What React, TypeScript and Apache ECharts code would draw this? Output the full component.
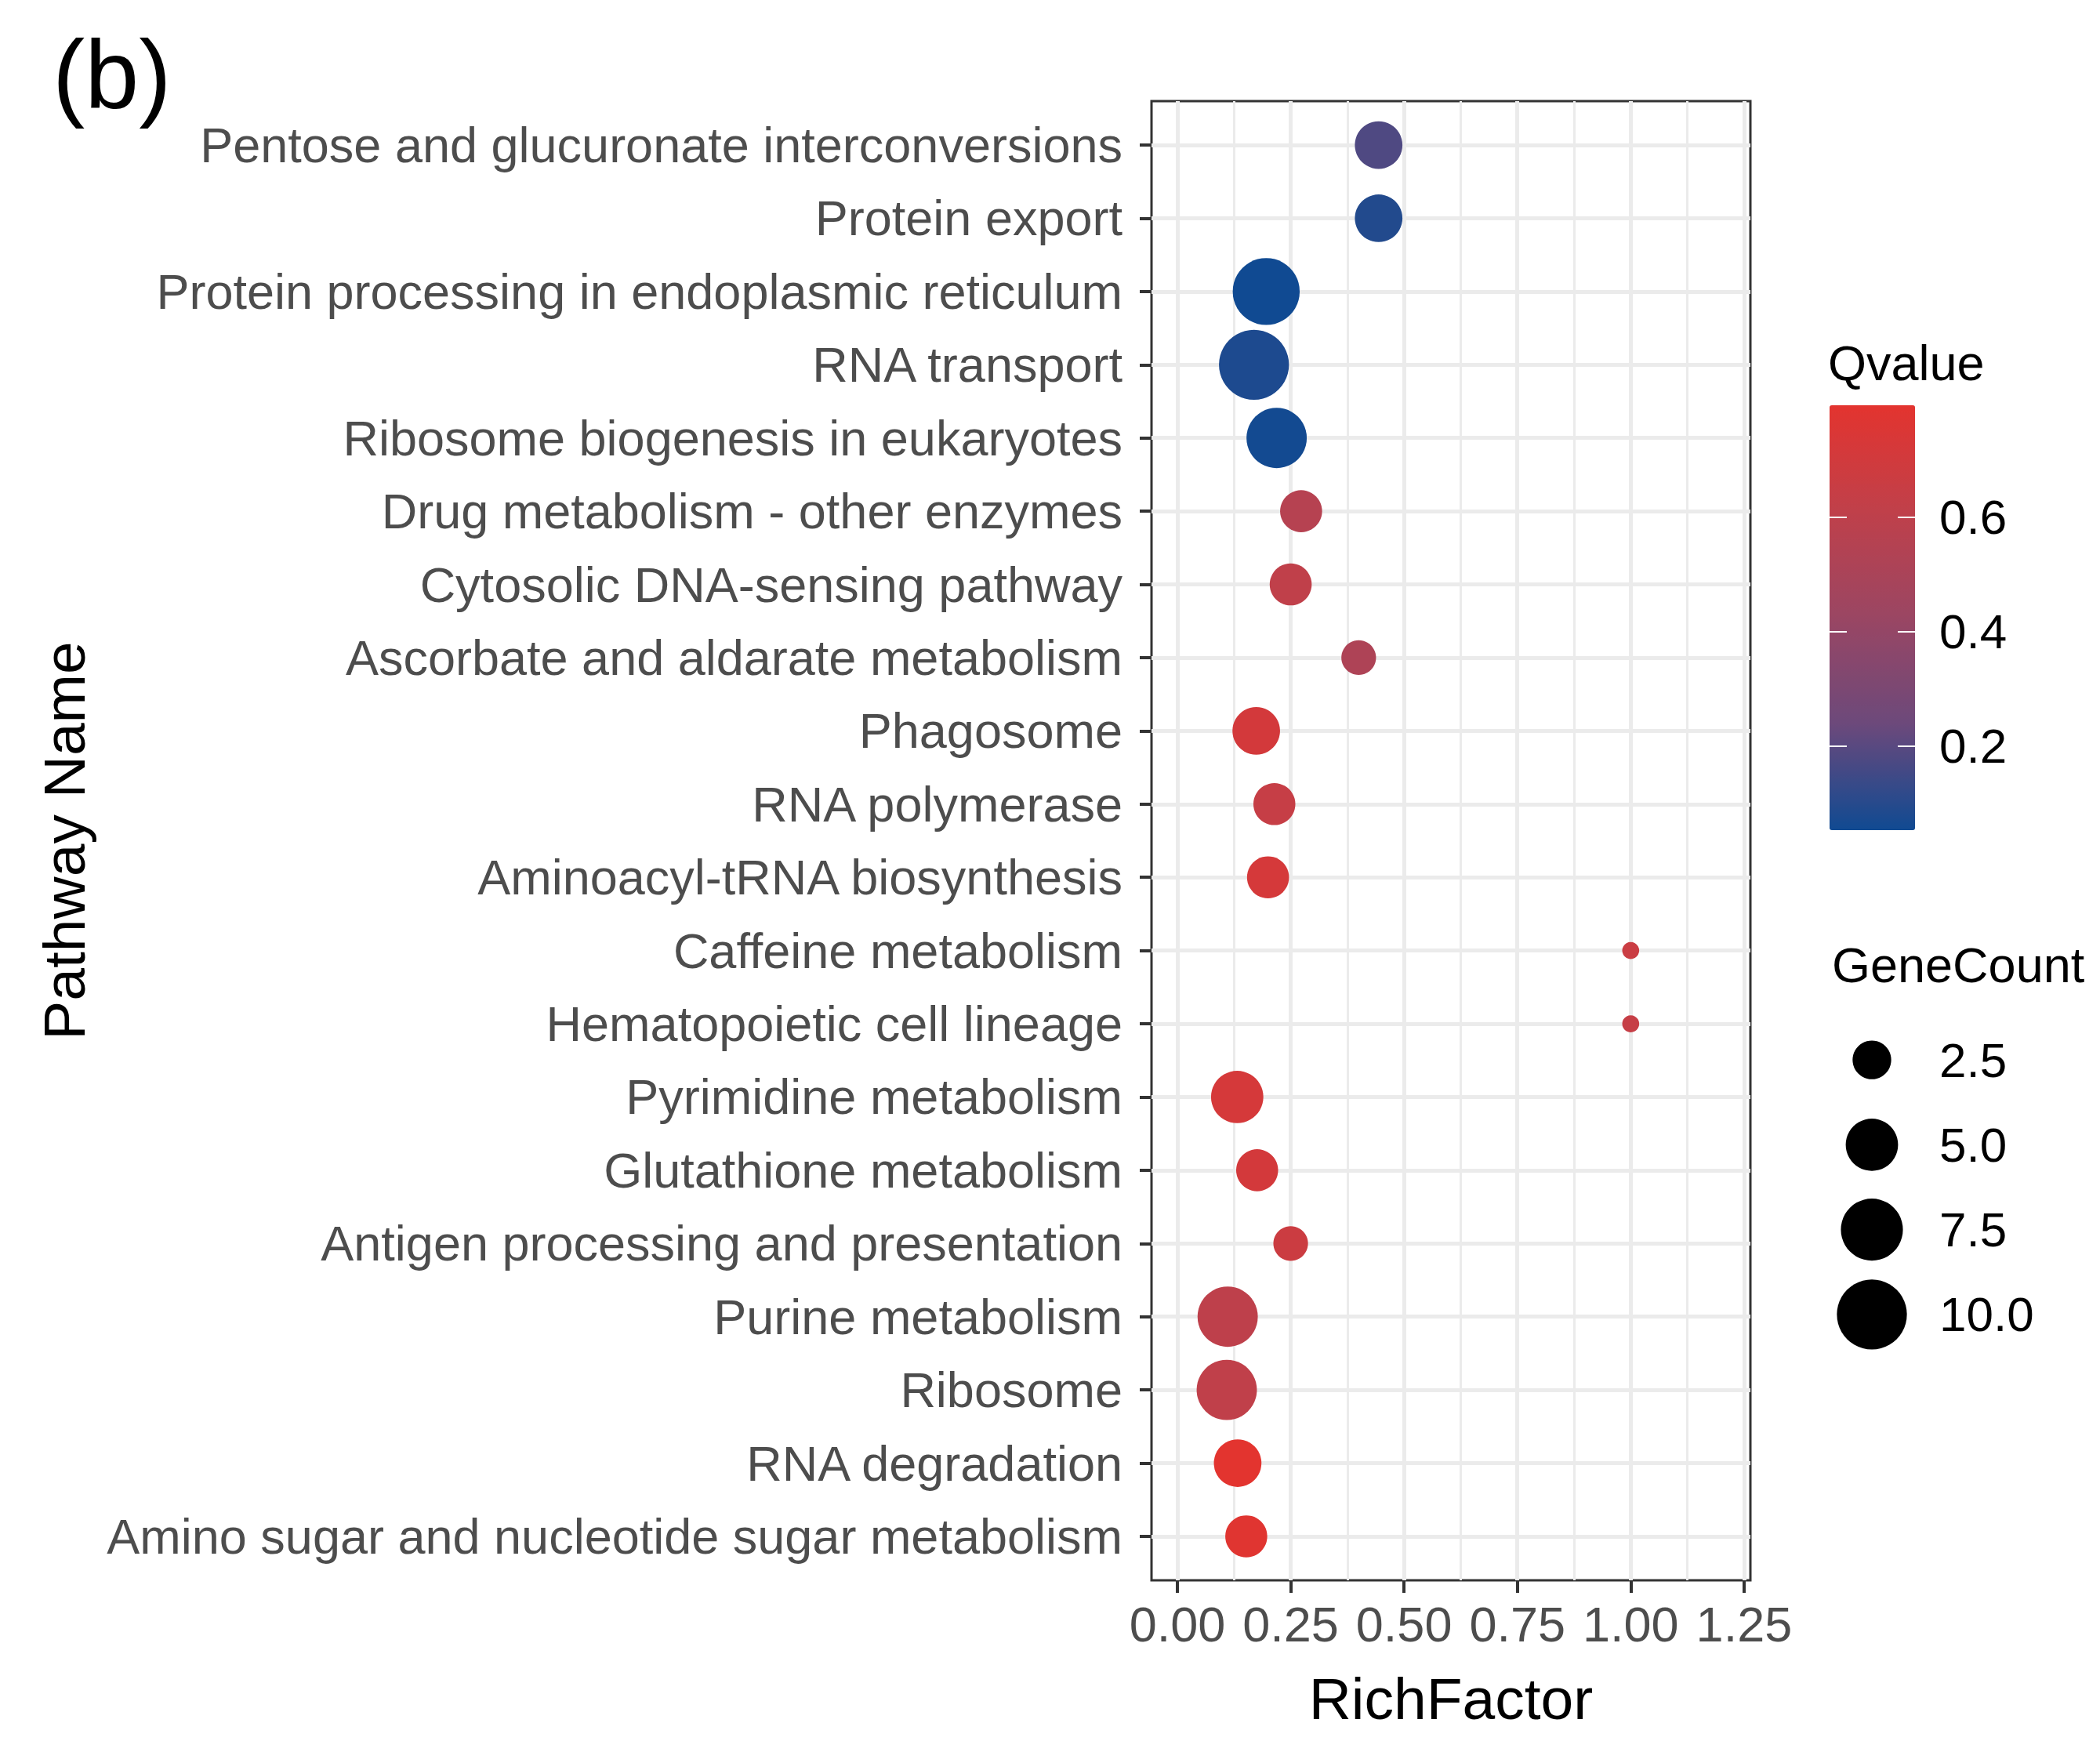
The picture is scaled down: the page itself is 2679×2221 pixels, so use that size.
import React, { useEffect, useRef } from "react";
import * as echarts from "echarts";

const categories = [
  "Pentose and glucuronate interconversions",
  "Protein export",
  "Protein processing in endoplasmic reticulum",
  "RNA transport",
  "Ribosome biogenesis in eukaryotes",
  "Drug metabolism - other enzymes",
  "Cytosolic DNA-sensing pathway",
  "Ascorbate and aldarate metabolism",
  "Phagosome",
  "RNA polymerase",
  "Aminoacyl-tRNA biosynthesis",
  "Caffeine metabolism",
  "Hematopoietic cell lineage",
  "Pyrimidine metabolism",
  "Glutathione metabolism",
  "Antigen processing and presentation",
  "Purine metabolism",
  "Ribosome",
  "RNA degradation",
  "Amino sugar and nucleotide sugar metabolism",
];
const richFactor = [0.444, 0.444, 0.196, 0.169, 0.219, 0.273, 0.25, 0.4, 0.174, 0.214, 0.2, 1.0, 1.0, 0.132, 0.176, 0.25, 0.111, 0.109, 0.133, 0.152];
const qValue = [0.18, 0.09, 0.053, 0.08, 0.06, 0.56, 0.61, 0.52, 0.71, 0.64, 0.72, 0.66, 0.64, 0.72, 0.71, 0.67, 0.6, 0.61, 0.795, 0.78];
const geneCount = [4, 4, 9, 10, 7, 3, 3, 2, 4, 3, 3, 1, 1, 5, 3, 2, 7, 7, 4, 3];

const xTicks = [0, 0.25, 0.5, 0.75, 1.0, 1.25];
const xMinorTicks = [0.125, 0.375, 0.625, 0.875, 1.125];
const qTicks = [0.2, 0.4, 0.6];
const sizeBreaks = [2.5, 5.0, 7.5, 10.0];

const Q_MIN = 0.053;
const Q_MAX = 0.795;
const gradientColors = ["#104A92", "#6C497B", "#9A4663", "#C0404A", "#E3342F"];

const FONT = "'Liberation Sans', Arial, Helvetica, sans-serif";
const MIN_D = 21.7;
const MAX_D = 89.3;
const cMin = Math.min(...geneCount);
const cMax = Math.max(...geneCount);
const sizeScale = (v: number) => {
  const t = Math.max(0, (v - cMin) / (cMax - cMin));
  return MIN_D + (MAX_D - MIN_D) * Math.sqrt(t);
};

const rowIdx = categories.map((_, i) => i);

export default function App() {
  const ref = useRef<HTMLDivElement>(null);
  useEffect(() => {
    if (!ref.current) return;
    const chart = echarts.init(ref.current, null, { renderer: "svg" });
    const mainData = categories.map((c, i) => [richFactor[i], i, qValue[i], geneCount[i], c]);
    const legendData = sizeBreaks.map((b, i) => [0.5, i, b]);
    const option: any = {
      animation: false,
      backgroundColor: "#ffffff",
      textStyle: { fontFamily: FONT },
      title: {
        text: "(b)",
        left: 62,
        top: 28,
        textStyle: { fontSize: 124, fontWeight: "normal", color: "#000000", fontFamily: FONT },
      },
      grid: [
        {
          left: 1469,
          right: 2679 - 2233,
          top: 129,
          bottom: 2221 - 2016,
          show: true,
          borderColor: "#333333",
          borderWidth: 3,
          backgroundColor: "transparent",
          containLabel: false,
        },
        { left: 2334, top: 517, width: 109, height: 542, show: false },
        { left: 2340, top: 1298, width: 96, height: 433, show: false },
      ],
      xAxis: [
        {
          type: "value",
          gridIndex: 0,
          position: "bottom",
          min: -0.057,
          max: 1.264,
          name: "RichFactor",
          nameLocation: "middle",
          nameGap: 113,
          nameTextStyle: { fontSize: 75, color: "#000000", fontFamily: FONT },
          axisLine: { show: false, onZero: false },
          axisTick: { show: true, length: 16, customValues: xTicks, lineStyle: { color: "#333333", width: 4 } },
          axisLabel: {
            customValues: xTicks,
            fontSize: 63,
            color: "#4D4D4D",
            margin: 24,
            fontFamily: FONT,
            formatter: (v: number) => v.toFixed(2),
          },
          splitLine: { show: true, lineStyle: { color: "#EBEBEB", width: 5 } },
        },
        {
          type: "value",
          gridIndex: 0,
          position: "top",
          min: -0.057,
          max: 1.264,
          axisLine: { show: false, onZero: false },
          axisTick: { show: false, customValues: xMinorTicks },
          axisLabel: { show: false, customValues: xMinorTicks },
          splitLine: { show: true, lineStyle: { color: "#EBEBEB", width: 3 } },
        },
        { type: "value", gridIndex: 1, min: 0, max: 1, show: false, axisLine: { onZero: false } },
        { type: "value", gridIndex: 2, min: 0, max: 1, show: false, axisLine: { onZero: false } },
      ],
      yAxis: [
        {
          type: "value",
          gridIndex: 0,
          position: "left",
          inverse: true,
          min: -0.6,
          max: categories.length - 1 + 0.6,
          name: "Pathway Name",
          nameLocation: "middle",
          nameRotate: 90,
          nameGap: 1350,
          nameTextStyle: { fontSize: 75, color: "#000000", fontFamily: FONT },
          axisLine: { show: false, onZero: false },
          axisTick: { show: true, length: 15, customValues: rowIdx, lineStyle: { color: "#333333", width: 4 } },
          axisLabel: {
            customValues: rowIdx,
            fontSize: 63,
            color: "#4D4D4D",
            margin: 37,
            fontFamily: FONT,
            formatter: (v: number) => categories[Math.round(v)],
          },
          splitLine: { show: true, lineStyle: { color: "#EBEBEB", width: 5 } },
        },
        {
          type: "value",
          gridIndex: 1,
          position: "right",
          min: Q_MIN,
          max: Q_MAX,
          z: 10,
          axisLine: { show: false, onZero: false },
          axisTick: { show: true, inside: true, length: 22, customValues: qTicks, lineStyle: { color: "#ffffff", width: 2 } },
          axisLabel: {
            customValues: qTicks,
            fontSize: 62,
            color: "#000000",
            margin: 31,
            fontFamily: FONT,
            formatter: (v: number) => v.toFixed(1),
          },
          splitLine: { show: false },
        },
        {
          type: "value",
          gridIndex: 1,
          position: "left",
          min: Q_MIN,
          max: Q_MAX,
          z: 10,
          axisLine: { show: false, onZero: false },
          axisTick: { show: true, inside: true, length: 22, customValues: qTicks, lineStyle: { color: "#ffffff", width: 2 } },
          axisLabel: { show: false, customValues: qTicks },
          splitLine: { show: false },
        },
        {
          type: "value",
          gridIndex: 2,
          position: "right",
          inverse: true,
          min: -0.5,
          max: sizeBreaks.length - 0.5,
          axisLine: { show: false, onZero: false },
          axisTick: { show: false, customValues: sizeBreaks.map((_, i) => i) },
          axisLabel: {
            customValues: sizeBreaks.map((_, i) => i),
            fontSize: 62,
            color: "#000000",
            margin: 38,
            fontFamily: FONT,
            formatter: (v: number) => sizeBreaks[Math.round(v)].toFixed(1),
          },
          splitLine: { show: false },
        },
      ],
      visualMap: [
        {
          type: "continuous",
          seriesIndex: 0,
          dimension: 2,
          min: Q_MIN,
          max: Q_MAX,
          orient: "vertical",
          left: 2334,
          top: 517,
          itemWidth: 109,
          itemHeight: 542,
          padding: 0,
          z: 1,
          calculable: false,
          hoverLink: false,
          text: null,
          showLabel: false,
          inRange: { color: gradientColors },
        },
      ],
      graphic: [
        {
          type: "text",
          x: 2332,
          y: 463,
          style: { text: "Qvalue", fontSize: 63, fontFamily: FONT, fill: "#000000", align: "left", verticalAlign: "middle" },
        },
        {
          type: "text",
          x: 2337,
          y: 1231,
          style: { text: "GeneCount", fontSize: 63, fontFamily: FONT, fill: "#000000", align: "left", verticalAlign: "middle" },
        },
      ],
      series: [
        {
          type: "scatter",
          xAxisIndex: 0,
          yAxisIndex: 0,
          data: mainData,
          symbol: "circle",
          symbolSize: (val: any[]) => sizeScale(val[3]),
          itemStyle: { opacity: 1 },
          emphasis: { disabled: true },
          z: 5,
        },
        {
          type: "scatter",
          xAxisIndex: 3,
          yAxisIndex: 3,
          data: legendData,
          symbol: "circle",
          symbolSize: (val: any[]) => sizeScale(val[2]),
          itemStyle: { color: "#000000", opacity: 1 },
          emphasis: { disabled: true },
        },
      ],
    };
    chart.setOption(option);
    return () => chart.dispose();
  }, []);
  return (
    <div
      ref={ref}
      style={{ position: "absolute", left: 0, top: 0, width: 2679, height: 2221, background: "#fff" }}
    />
  );
}
